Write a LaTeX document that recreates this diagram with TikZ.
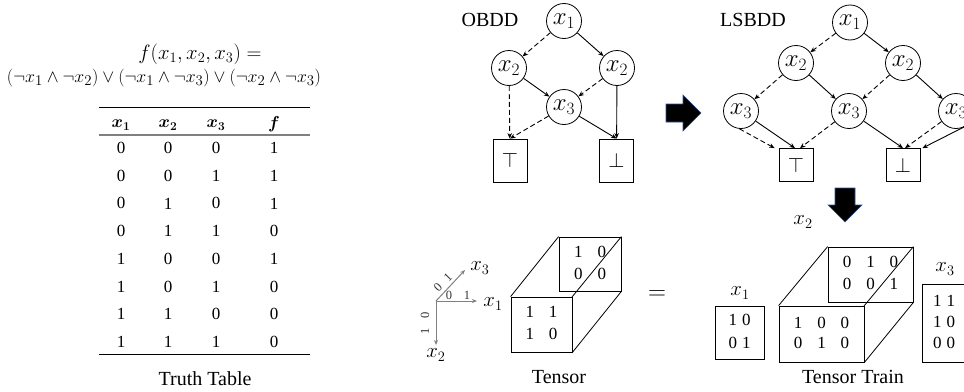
\documentclass[tikz,border=0pt]{standalone}
\usepackage{fontspec}
\setmainfont{Liberation Serif}
\usepackage{bm}
\usetikzlibrary{arrows.meta,calc}
\definecolor{abord}{RGB}{47,82,143}
\begin{document}
\begin{tikzpicture}[x=1pt,y=-1pt,
  lab/.style={font=\fontsize{20}{20}\selectfont, inner sep=0pt, anchor=base},
  var/.style={circle, draw, line width=0.8pt, minimum size=35pt, inner sep=0pt, font=\fontsize{24}{24}\selectfont},
  termA/.style={draw, line width=0.8pt, minimum width=34pt, minimum height=43pt, inner sep=0pt, font=\fontsize{20}{20}\selectfont},
  termB/.style={termA, minimum height=33pt},
  hi/.style={line width=0.9pt, -{Stealth[length=5.5pt,width=4.5pt]}},
  lo/.style={hi, dash pattern=on 5pt off 3pt},
  cell/.style={font=\fontsize{17}{17}\selectfont, inner sep=0pt},
  face/.style={draw, line width=0.8pt, inner sep=0pt, fill=white, font=\fontsize{17}{22}\selectfont},
  axis/.style={draw=gray, line width=1pt, -{Stealth[length=5pt,width=4pt]}},
  tick/.style={text=black!80, font=\fontsize{12.5}{12.5}\selectfont, inner sep=0pt},
  xlab/.style={font=\fontsize{21}{21}\selectfont, inner sep=0pt},
  blk/.style={fill=black, draw=abord, line width=0.6pt},
]
\useasboundingbox (0,0) rectangle (964,391);

% ---------- formula and truth table ----------
\node[font=\fontsize{21}{21}\selectfont, inner sep=0pt] (f1) at (200,54) {$f(x_1,x_2,x_3) =$};
\node[font=\fontsize{19}{19}\selectfont, inner sep=0pt] (f2) at (164,78) {\resizebox{314pt}{!}{$(\neg x_1\wedge\neg x_2)\vee(\neg x_1\wedge\neg x_3)\vee(\neg x_2\wedge\neg x_3)$}};

\draw[line width=1pt] (99,107) -- (310,107);
\draw[line width=1.6pt, gray] (99,135) -- (310,135);
\draw[line width=1pt] (99,354) -- (310,354);

\node[cell] (h1) at (121,125) {$\bm{x}_{\bm{1}}$};
\node[cell] (h2) at (168,125) {$\bm{x}_{\bm{2}}$};
\node[cell] (h3) at (216,125) {$\bm{x}_{\bm{3}}$};
\node[cell] (h4) at (274,124) {$\bm{f}$};

\foreach \a/\b/\c/\d [count=\i from 0] in {0/0/0/1,0/0/1/1,0/1/0/1,0/1/1/0,1/0/0/1,1/0/1/0,1/1/0/0,1/1/1/0}{
  \node[cell] (r\i a) at (121,148+27.7*\i) {\a};
  \node[cell] (r\i b) at (168,148+27.7*\i) {\b};
  \node[cell] (r\i c) at (216,148+27.7*\i) {\c};
  \node[cell] (r\i d) at (274,148+27.7*\i) {\d};
}
\node[lab] (tt) at (205,385) {Truth Table};

% ---------- OBDD ----------
\node[lab] (obddl) at (490,26) {OBDD};
\node[var] (o1) at (564,21) {$x_1$};
\node[var] (o2a) at (509,68) {$x_2$};
\node[var] (o2b) at (617,68) {$x_2$};
\node[var] (o3) at (564,107) {$x_3$};
\node[termA] (oT) at (510,160.5) {$\top$};
\node[termA] (oF) at (616.5,160.5) {$\bot$};
\draw[lo] (o1) -- (o2a);
\draw[hi] (o1) -- (o2b);
\draw[hi] (o2a) -- (o3);
\draw[lo] (o2b) -- (o3);
\draw[lo] (o2a) -- (oT);
\draw[lo] (o3) -- (oT.north);
\draw[hi] (o3) -- (oF.north);
\draw[hi] (o2b) -- (oF);

% right block arrow
\fill[blk] (666,104) -- (683,104) -- (683,95) -- (701,113) -- (683,131) -- (683,122) -- (666,122) -- cycle;

% ---------- LSBDD ----------
\node[lab] (lsbddl) at (753,26) {LSBDD};
\node[var] (l1) at (850,22.5) {$x_1$};
\node[var] (l2a) at (796,63) {$x_2$};
\node[var] (l2b) at (903,63) {$x_2$};
\node[var] (l3a) at (741,111) {$x_3$};
\node[var] (l3b) at (849,111) {$x_3$};
\node[var] (l3c) at (956,111) {$x_3$};
\node[termB] (lT) at (796,165) {$\top$};
\node[termB] (lF) at (903,165) {$\bot$};
\draw[lo] (l1) -- (l2a);
\draw[hi] (l1) -- (l2b);
\draw[lo] (l2a) -- (l3a);
\draw[hi] (l2a) -- (l3b);
\draw[lo] (l2b) -- (l3b);
\draw[hi] (l2b) -- (l3c);
\draw[lo] (l3a.265) -- ([xshift=-4pt]lT.north west);
\draw[hi] (l3a) -- ([xshift=-1pt]lT.north);
\draw[lo] (l3b) -- ([xshift=4pt]lT.north);
\draw[hi] (l3b) -- (lF.north);
\draw[lo] (l3c) -- ([xshift=2pt]lF.north);
\draw[hi] (l3c.300) -- ([xshift=2pt]lF.north east);

% down block arrow
\fill[blk] (835,188) -- (855,188) -- (855,205) -- (862,205) -- (845,222) -- (828,205) -- (835,205) -- cycle;

% ---------- Tensor ----------
\coordinate (ao) at (436,301);
\coordinate (ax1) at (477,301);
\coordinate (ax3) at (465,270);
\coordinate (ax2) at (436,345);
\draw[axis] (ao) -- (ax1);
\draw[axis] (ao) -- (ax3);
\draw[axis] (ao) -- (ax2);
\node[xlab] (lx3) at (480,268) {$x_3$};
\node[xlab] (lx1) at (493,304) {$x_1$};
\node[xlab] (lx2) at (436,355) {$x_2$};
\node[tick] (t10) at (449,295) {0};
\node[tick] (t11) at (467,295) {1};
\node[tick, rotate=45] (t30) at (438,287) {0};
\node[tick, rotate=45] (t31) at (448,277) {1};
\node[tick, rotate=90] (t20) at (425,315) {0};
\node[tick, rotate=90] (t21) at (425,331) {1};

\node[face, minimum width=62pt, minimum height=54pt] (tb) at (590,264)
  {\begin{tabular}{@{}c@{\hspace{15pt}}c@{}}1&0\\0&0\end{tabular}};
\draw[line width=0.8pt] (tb.north east) -- (572,297) coordinate (tfne);
\node[face, minimum width=61pt, minimum height=55pt] (tf) at (541.5,324.5)
  {\begin{tabular}{@{}c@{\hspace{15pt}}c@{}}1&1\\1&0\end{tabular}};
\draw[line width=0.8pt] (tf.north west) -- (tb.north west);
\draw[line width=0.8pt] (tf.south east) -- (tb.south east);
\node[lab] (tens) at (559,383) {Tensor};

\node[font=\fontsize{24}{24}\selectfont, inner sep=0pt] (eq) at (657,295) {$=$};

% ---------- Tensor Train ----------
\node[xlab] (ttx2) at (803,222) {$x_2$};
\node[xlab] (ttx1) at (740,293) {$x_1$};
\node[xlab] (ttx3) at (945,269) {$x_3$};
\node[face, minimum width=49pt, minimum height=53pt, font=\fontsize{17}{23}\selectfont] (g1) at (739.5,332.5)
  {\begin{tabular}{@{}c@{\hspace{5pt}}c@{}}1&0\\0&1\end{tabular}};
\node[face, minimum width=85pt, minimum height=55pt] (gb) at (870.5,274.5)
  {\begin{tabular}{@{}c@{\hspace{15pt}}c@{\hspace{15pt}}c@{}}0&1&0\\0&0&1\end{tabular}};
\draw[line width=0.8pt] (gb.north east) -- (864,306);
\node[face, minimum width=85pt, minimum height=56pt, font=\fontsize{17}{20}\selectfont] (gf) at (821.5,334)
  {\begin{tabular}{@{}c@{\hspace{15pt}}c@{\hspace{15pt}}c@{}}1&0&0\\0&1&0\end{tabular}};
\draw[line width=0.8pt] (gf.north west) -- (gb.north west);
\draw[line width=0.8pt] (gf.south east) -- (gb.south east);
\node[face, minimum width=44pt, minimum height=78pt, font=\fontsize{17}{21}\selectfont] (g3) at (944,323)
  {\begin{tabular}{@{}c@{\hspace{5pt}}c@{}}1&1\\1&0\\0&0\end{tabular}};
\node[lab] (ttl) at (853,383) {Tensor Train};
\end{tikzpicture}
\end{document}
